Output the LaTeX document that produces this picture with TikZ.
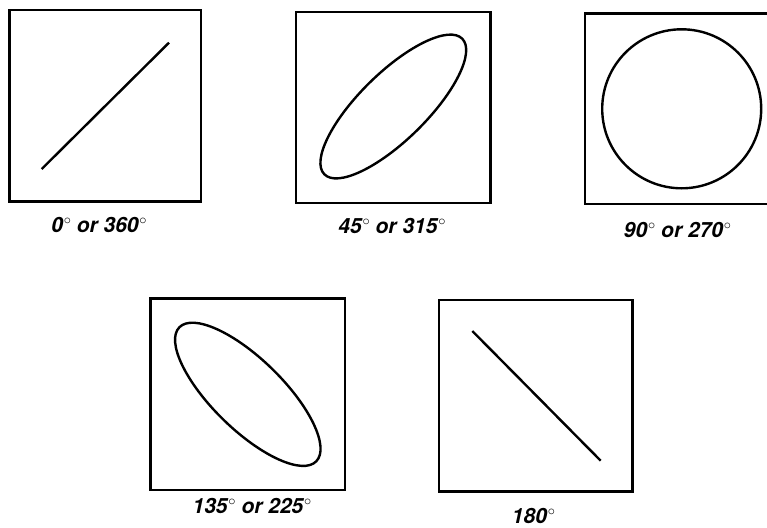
\documentclass[tikz,border=0pt]{standalone}
\usepackage{fontspec}
\setmainfont{TeX Gyre Heros}
\newcommand{\dg}{\kern0.8pt\raisebox{7.2pt}{\fontsize{15}{15}\selectfont$\circ$}}
\begin{document}
\begin{tikzpicture}[x=1pt,y=-1pt,
  frame/.style={line width=2.9pt, line join=miter},
  curve/.style={line width=2.4pt},
  lbl/.style={font=\fontsize{21}{24}\selectfont\bfseries\itshape, inner sep=0pt, anchor=base}]
\useasboundingbox (0,0) rectangle (767,527);
% panel 1
\coordinate (b1a) at (9.5,10);
\coordinate (b1b) at (201,201.3);
\draw[frame] (b1a) rectangle (b1b);
\coordinate (l1a) at (41.7,169);
\coordinate (l1b) at (169,42.7);
\draw[curve] (l1a) -- (l1b);
\node[lbl] (t1) at (99,232) {0\dg{} or 360\dg};
% panel 2
\coordinate (b2a) at (296,12);
\coordinate (b2b) at (490.5,203);
\draw[frame] (b2a) rectangle (b2b);
\coordinate (e2) at (393.3,106.5);
\draw[curve, rotate around={44.5:(e2)}] (e2) ellipse [x radius=96.7pt, y radius=33.6pt];
\node[lbl] (t2) at (392,233) {45\dg{} or 315\dg};
% panel 3
\coordinate (b3a) at (767,13.3);
\coordinate (b3b) at (585,13.3);
\coordinate (b3c) at (585,204);
\coordinate (b3d) at (767,204);
\draw[frame] (b3a) -- (b3b) -- (b3c) -- (b3d);
\coordinate (c3) at (681.7,108.8);
\draw[curve] (c3) circle [radius=79.5pt];
\node[lbl] (t3) at (677.5,237) {90\dg{} or 270\dg};
% panel 4
\coordinate (b4a) at (150.7,298.3);
\coordinate (b4b) at (345,490);
\draw[frame] (b4a) rectangle (b4b);
\coordinate (e4) at (247.8,394.3);
\draw[curve, rotate around={-44.4:(e4)}] (e4) ellipse [x radius=95.8pt, y radius=35.2pt];
\node[lbl] (t4) at (252,513) {135\dg{} or 225\dg};
% panel 5
\coordinate (b5a) at (439,300);
\coordinate (b5b) at (632.7,491.7);
\draw[frame] (b5a) rectangle (b5b);
\coordinate (l5a) at (472.3,331);
\coordinate (l5b) at (600.7,460.7);
\draw[curve] (l5a) -- (l5b);
\node[lbl] (t5) at (533.5,523) {180\dg};
\end{tikzpicture}
\end{document}
